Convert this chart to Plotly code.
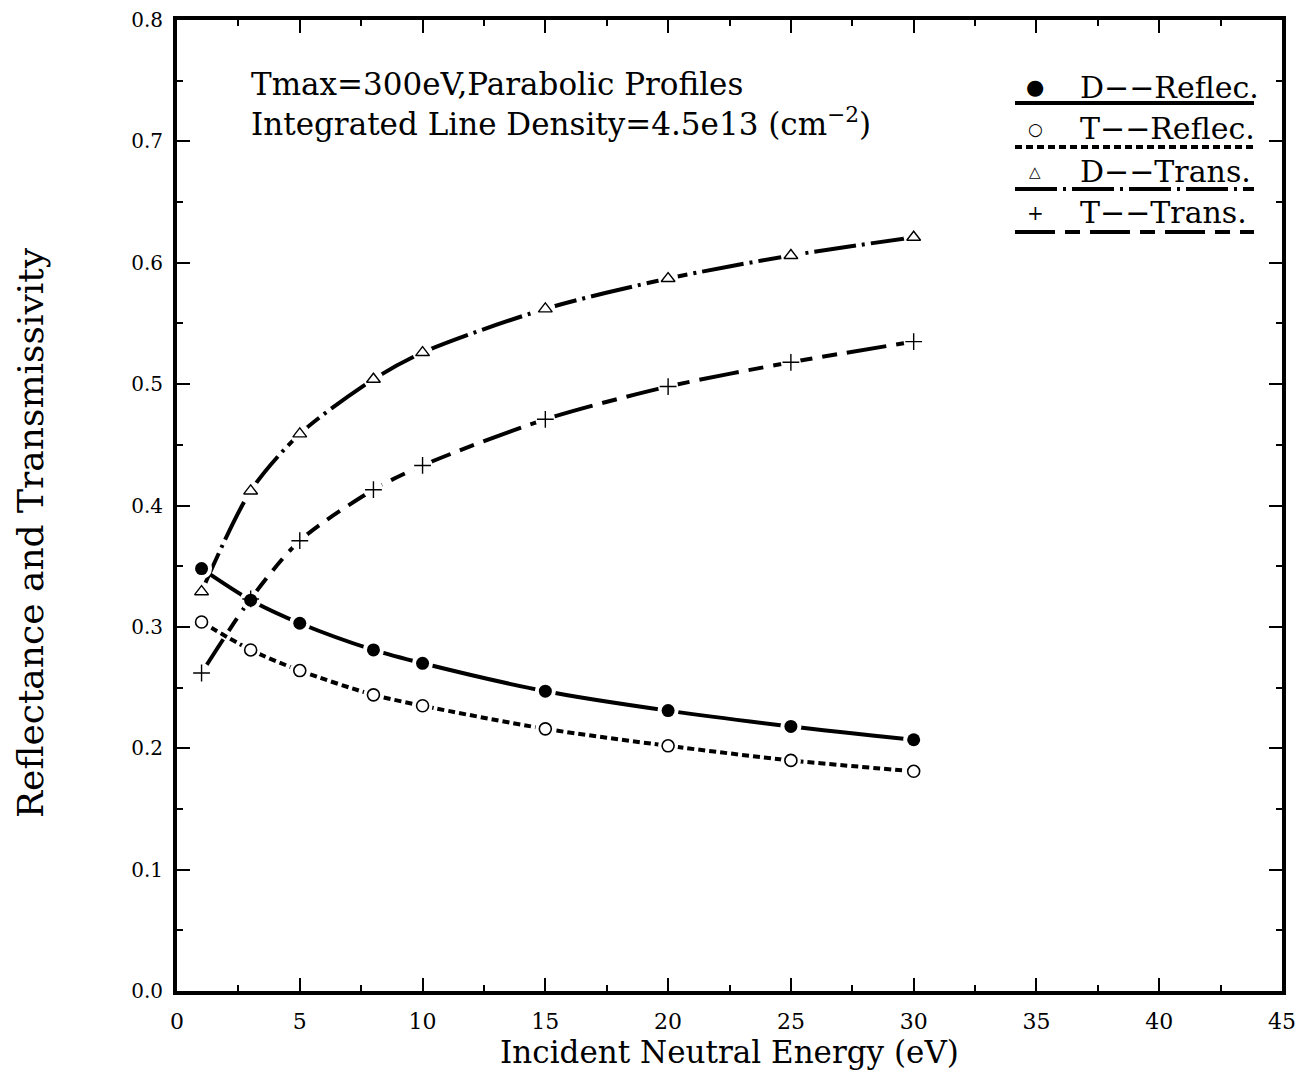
import plotly.graph_objects as go

energy = [1, 3, 5, 8, 10, 15, 20, 25, 30]
d_reflec = [0.348, 0.322, 0.303, 0.281, 0.270, 0.247, 0.231, 0.218, 0.207]
t_reflec = [0.304, 0.281, 0.264, 0.244, 0.235, 0.216, 0.202, 0.190, 0.181]
d_trans = [0.329, 0.412, 0.459, 0.504, 0.526, 0.562, 0.587, 0.606, 0.621]
t_trans = [0.262, 0.323, 0.371, 0.413, 0.433, 0.471, 0.498, 0.518, 0.535]

series_names = ["D\u2212\u2212Reflec.", "T\u2212\u2212Reflec.", "D\u2212\u2212Trans.", "T\u2212\u2212Trans."]
x_ticks = [0, 5, 10, 15, 20, 25, 30, 35, 40, 45]
y_ticks = [0.0, 0.1, 0.2, 0.3, 0.4, 0.5, 0.6, 0.7, 0.8]

FONT = "DejaVu Serif"
dashes = ["solid", "7px,4px", "42px,6px,3px,6px", "40px,10px,15px,10px"]
symbols = ["circle", "circle-open", "triangle-up-open", "cross-thin-open"]
sizes = [13, 12, 12, 12]
values = [d_reflec, t_reflec, d_trans, t_trans]

fig = go.Figure()
for vals, dash in zip(values, dashes):
    fig.add_trace(go.Scatter(x=energy, y=vals, mode="lines", line=dict(color="black", width=4, dash=dash, shape="spline", smoothing=0.8), showlegend=False, hoverinfo="skip"))
for vals, sz in zip(values, sizes):
    fig.add_trace(go.Scatter(x=energy, y=vals, mode="markers", marker=dict(symbol="circle", size=sz + 8, color="white", line=dict(width=0)), showlegend=False, hoverinfo="skip"))
for vals, sym, sz, name in zip(values, symbols, sizes, series_names):
    if sym == "circle":
        mk = dict(symbol=sym, size=sz, color="black")
    elif sym == "circle-open":
        mk = dict(symbol=sym, size=sz, color="black", line=dict(width=1.6))
    else:
        mk = dict(symbol=sym, size=sz, color="black", line=dict(width=1.4, color="black"))
    fig.add_trace(go.Scatter(x=energy, y=vals, mode="markers", marker=mk, name=name, showlegend=False))

OFF = 8  # page body margin
W, H = 1310 - 2 * OFF, 1083 - 2 * OFF
PL, PR, PT, PB = 177, 1282, 20, 991
L, T = PL - OFF, PT - OFF
R, B = W - (PR - OFF), H - (PB - OFF)
pw, ph = W - L - R, H - T - B

def px(x):
    return (x - PL) / pw

def py(y):
    return (PB - y) / ph

shapes = []
annotations = []
legend_syms = ["\u25CF", "\u25CB", "\u25B3", "+"]
sym_sizes = [21, 17, 15, 20]
row_y = [87, 129, 172, 213]
line_y = [103, 147, 189, 232]
for i, name in enumerate(series_names):
    yc = row_y[i]
    annotations.append(dict(x=px(1035), y=py(yc), xref="paper", yref="paper", text=legend_syms[i], showarrow=False, font=dict(family=FONT, size=sym_sizes[i], color="black"), xanchor="center", yanchor="middle"))
    annotations.append(dict(x=px(1078), y=py(yc), xref="paper", yref="paper", text=name, showarrow=False, font=dict(family=FONT, size=30, color="black"), xanchor="left", yanchor="middle"))
    shapes.append(dict(type="line", xref="paper", yref="paper", x0=px(1015), x1=px(1254), y0=py(line_y[i]), y1=py(line_y[i]), line=dict(color="black", width=4, dash=dashes[i])))

annotations.append(dict(x=px(249), y=py(84), xref="paper", yref="paper", text="Tmax=300eV,Parabolic Profiles", showarrow=False, font=dict(family=FONT, size=31, color="black"), xanchor="left", yanchor="middle"))
annotations.append(dict(x=px(249), y=py(122), xref="paper", yref="paper", text="Integrated Line Density=4.5e13 (cm<sup>\u22122</sup>)", showarrow=False, font=dict(family=FONT, size=31, color="black"), xanchor="left", yanchor="middle"))
annotations.append(dict(x=px(30), y=py(533), xref="paper", yref="paper", text="Reflectance and Transmissivity", textangle=-90, showarrow=False, font=dict(family=FONT, size=36, color="black"), xanchor="center", yanchor="middle"))

axis_common = dict(showline=True, linecolor="black", linewidth=4, mirror="allticks", ticks="inside", ticklen=13, tickwidth=2, tickcolor="black", showgrid=False, zeroline=False)

fig.update_layout(
    width=W, height=H,
    margin=dict(l=L, r=R, t=T, b=B, autoexpand=False),
    paper_bgcolor="white", plot_bgcolor="white",
    shapes=shapes, annotations=annotations,
    xaxis=dict(range=[0, 45], tickvals=x_ticks, ticktext=[str(v) for v in x_ticks],
               minor=dict(dtick=2.5, ticks="inside", ticklen=6, tickwidth=2, tickcolor="black"),
               ticklabelstandoff=8,
               tickfont=dict(family=FONT, size=22, color="black"),
               title=dict(text="Incident Neutral Energy (eV)", font=dict(family=FONT, size=31, color="black"), standoff=6),
               **axis_common),
    yaxis=dict(range=[0, 0.8], tickvals=y_ticks, ticktext=["%.1f" % v for v in y_ticks],
               minor=dict(dtick=0.05, ticks="inside", ticklen=6, tickwidth=2, tickcolor="black"),
               ticklabelstandoff=6,
               tickfont=dict(family=FONT, size=20, color="black"),
               **axis_common),
    font=dict(family=FONT, color="black"),
)

fig.write_html("out.html")
